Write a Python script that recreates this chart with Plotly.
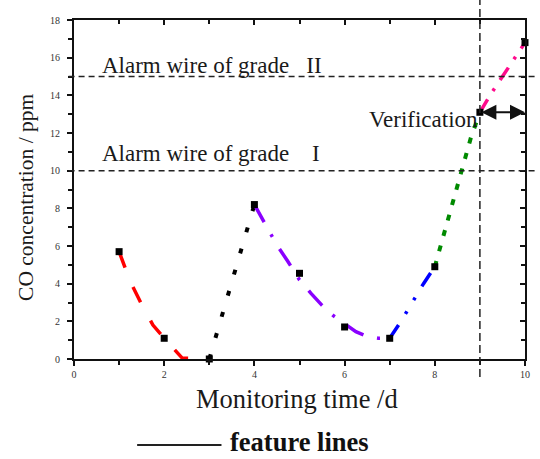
import plotly.graph_objects as go

# Measured CO concentration per monitoring day
days = [1, 2, 3, 4, 5, 6, 7, 8, 9, 10]
co_ppm = [5.7, 1.1, 0.0, 8.2, 4.55, 1.7, 1.1, 4.9, 13.1, 16.8]

# Feature lines between monitoring days
red_x = [1, 1.25, 1.5, 1.75, 2, 2.4, 3]
red_y = [5.7, 4.1, 2.9, 1.8, 1.1, 0.05, 0.0]
black_x = [3, 4]
black_y = [0.0, 8.2]
purple_x = [4, 4.25, 4.5, 4.75, 5, 5.25, 5.5, 5.75, 6, 6.25, 6.5, 6.75, 7]
purple_y = [8.2, 7.1, 6.05, 5.15, 4.2, 3.5, 2.85, 2.3, 1.9, 1.45, 1.2, 1.1, 1.1]
blue_x = [7, 7.25, 7.5, 7.75, 8]
blue_y = [1.1, 2.0, 3.0, 4.0, 4.9]
green_x = [8, 8.2, 8.4, 8.6, 8.8, 9]
green_y = [4.9, 6.6, 8.4, 10.05, 11.75, 13.1]
pink_x = [9, 9.25, 9.5, 9.75, 10]
pink_y = [13.1, 14.1, 15.0, 15.9, 16.8]

# Alarm thresholds and verification window
alarm_grade_1 = 10
alarm_grade_2 = 15
verify_start = 9
verify_end = 10
verify_level = 13.1

SERIF = "Liberation Serif, Times New Roman, serif"
INK = "#1a1a1a"

fig = go.Figure()

segments = [
    (red_x, red_y, "#ff0000", 3.5, "17px,21px"),
    (black_x, black_y, "#000000", 4, "5px,17px"),
    (purple_x, purple_y, "#8a00ff", 3.5, "20px,14px,3px,14px"),
    (blue_x, blue_y, "#0000ff", 3.5, "16px,13px,3px,13px,3px,13px"),
    (green_x, green_y, "#008a00", 4, "6px,10px"),
    (pink_x, pink_y, "#ff0a8c", 3.5, "15px,10px,3px,10px"),
]
for xs, ys, color, w, dash in segments:
    fig.add_trace(go.Scatter(x=xs, y=ys, mode="lines",
                             line=dict(color=color, width=w, dash=dash),
                             showlegend=False, hoverinfo="skip"))

fig.add_trace(go.Scatter(x=days, y=co_ppm, mode="markers",
                         marker=dict(symbol="square", size=7, color="black"),
                         cliponaxis=False, showlegend=False))

# companion trace for the mirrored top/right frame axes
fig.add_trace(go.Scatter(x=[None], y=[None], xaxis="x2", yaxis="y2",
                         showlegend=False, hoverinfo="skip"))

tick_font = dict(family=SERIF, size=10, color="#333")
axis_common = dict(showline=True, linecolor="#111", linewidth=2,
                   showgrid=False, zeroline=False, tickcolor="#111",
                   tickwidth=1.5, tickfont=tick_font)

fig.update_layout(
    width=540, height=459,
    margin=dict(l=74, r=10, t=20, b=100),
    paper_bgcolor="white", plot_bgcolor="white",
    xaxis=dict(range=[0, 10], dtick=2, ticks="outside", ticklen=5,
               minor=dict(dtick=1, ticks="outside", ticklen=4, tickcolor="#111"),
               **axis_common),
    yaxis=dict(range=[0, 18], dtick=2, ticks="outside", ticklen=5,
               ticklabelstandoff=5,
               minor=dict(dtick=1, ticks="outside", ticklen=4, tickcolor="#111"),
               **axis_common),
    xaxis2=dict(range=[0, 10], overlaying="x", side="top", dtick=2,
                ticks="inside", ticklen=5, showticklabels=False,
                minor=dict(dtick=1, ticks="inside", ticklen=4, tickcolor="#111"),
                **axis_common),
    yaxis2=dict(range=[0, 18], overlaying="y", side="right", dtick=2,
                ticks="inside", ticklen=5, showticklabels=False,
                minor=dict(dtick=1, ticks="inside", ticklen=4, tickcolor="#111"),
                **axis_common),
)

# alarm threshold lines
for level in (alarm_grade_1, alarm_grade_2):
    fig.add_shape(type="line", xref="paper", yref="y",
                  x0=-0.012, x1=1.03, y0=level, y1=level,
                  line=dict(color="#222", width=1.5, dash="6px,4px"))

# verification boundary
fig.add_shape(type="line", xref="x", yref="paper",
              x0=verify_start, x1=verify_start, y0=-0.053, y1=1.06,
              line=dict(color="#222", width=1.5, dash="8px,4px"))

# legend-style key at the bottom
fig.add_shape(type="line", xref="paper", yref="paper",
              x0=0.140, x1=0.327, y0=-0.254, y1=-0.254,
              line=dict(color="#222", width=2))

NB = "\u00a0"
annotations = [
    dict(text="Alarm wire of grade" + NB * 3 + "II", x=0.58, y=15.6,
         xref="x", yref="y", xanchor="left", yanchor="middle",
         font=dict(family=SERIF, size=23, color=INK)),
    dict(text="Alarm wire of grade" + NB * 4 + "I", x=0.58, y=10.9,
         xref="x", yref="y", xanchor="left", yanchor="middle",
         font=dict(family=SERIF, size=23, color=INK)),
    dict(text="Verification", x=9.0, y=12.7, xref="x", yref="y",
         xanchor="right", yanchor="middle",
         font=dict(family=SERIF, size=23, color=INK)),
    dict(text="Monitoring time /d", x=0.495, y=-0.118, xref="paper", yref="paper",
         xanchor="center", yanchor="middle",
         font=dict(family=SERIF, size=26.5, color=INK)),
    dict(text="CO concentration / ppm", x=-0.108, y=0.476, xref="paper", yref="paper",
         xanchor="center", yanchor="middle", textangle=-90,
         font=dict(family=SERIF, size=21.5, color=INK)),
    dict(text="<b>feature lines</b>", x=0.50, y=-0.246, xref="paper", yref="paper",
         xanchor="center", yanchor="middle", borderpad=0,
         font=dict(family=SERIF, size=26.5, color="#111")),
]
for a in annotations:
    fig.add_annotation(showarrow=False, **a)

# double-headed arrow spanning the verification window
fig.add_annotation(x=verify_end, y=verify_level, ax=verify_start, ay=verify_level,
                   xref="x", yref="y", axref="x", ayref="y", text="",
                   showarrow=True, arrowhead=2, startarrowhead=2,
                   arrowside="end+start", arrowsize=1.5, startarrowsize=1.5,
                   arrowwidth=2, arrowcolor="#111")

fig.write_html("out.html")
